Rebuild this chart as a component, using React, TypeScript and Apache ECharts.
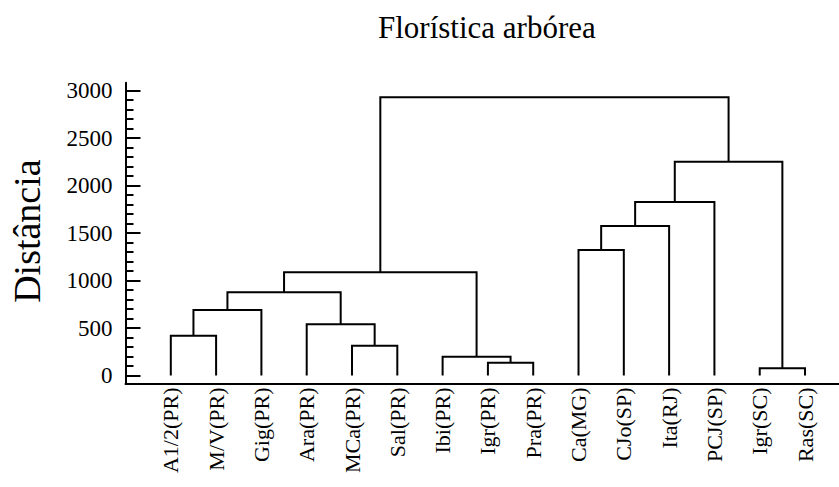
import React, { useEffect, useRef } from "react";
import * as echarts from "echarts";

// Leaves of the dendrogram, left to right
const leafLabels = [
  "A1/2(PR)",
  "M/V(PR)",
  "Gig(PR)",
  "Ara(PR)",
  "MCa(PR)",
  "Sal(PR)",
  "Ibi(PR)",
  "Igr(PR)",
  "Pra(PR)",
  "Ca(MG)",
  "CJo(SP)",
  "Ita(RJ)",
  "PCJ(SP)",
  "Igr(SC)",
  "Ras(SC)",
];

// Merge steps: nodes 0..14 are leaves, merge k creates node 15 + k
const mergeLeft = [0, 15, 4, 3, 16, 7, 6, 19, 9, 23, 24, 13, 25, 22];
const mergeRight = [1, 2, 5, 17, 18, 8, 20, 21, 10, 11, 12, 14, 26, 27];
const mergeHeight = [419, 690, 314, 539, 876, 135, 198, 1087, 1322, 1575, 1828, 76, 2252, 2931];

// Distance axis ticks
const yTickValues = [0, 500, 1000, 1500, 2000, 2500, 3000];
const yMinorTickValues = [
  100, 200, 300, 400, 600, 700, 800, 900, 1100, 1200, 1300, 1400, 1600, 1700, 1800, 1900,
  2100, 2200, 2300, 2400, 2600, 2700, 2800, 2900,
];

const SERIF = "'Liberation Serif', 'Times New Roman', Times, serif";

// Horizontal position (in leaf units) and height of every node
function buildLinks() {
  const pos: number[] = leafLabels.map((_, i) => i);
  const height: number[] = leafLabels.map(() => 0);
  const links: number[][] = [];
  mergeHeight.forEach((h, k) => {
    const l = mergeLeft[k];
    const r = mergeRight[k];
    links.push([pos[l], pos[r], height[l], height[r], h]);
    pos.push((pos[l] + pos[r]) / 2);
    height.push(h);
  });
  return links;
}

export default function App() {
  const ref = useRef<HTMLDivElement>(null);

  useEffect(() => {
    if (!ref.current) return;
    const chart = echarts.init(ref.current, null, { renderer: "svg" });
    const links = buildLinks();

    const option: any = {
      animation: false,
      backgroundColor: "#ffffff",
      title: {
        text: "Florística arbórea",
        left: 378,
        top: 12,
        padding: 0,
        textStyle: {
          fontFamily: SERIF,
          fontSize: 31,
          fontWeight: "normal",
          color: "#000",
        },
      },
      grid: {
        left: 125.5,
        right: 0,
        top: 82.7,
        bottom: 103.5,
        containLabel: false,
        outerBoundsMode: "none",
      },
      xAxis: {
        type: "value",
        min: -1,
        max: 14.75,
        interval: 1,
        axisLine: { show: true, onZero: false, lineStyle: { color: "#000", width: 2 } },
        axisTick: { show: false },
        splitLine: { show: false },
        axisLabel: {
          rotate: 90,
          margin: 4,
          fontFamily: SERIF,
          fontSize: 22,
          color: "#000",
          showMinLabel: true,
          showMaxLabel: true,
          formatter: (v: number) =>
            Number.isInteger(v) && v >= 0 && v < leafLabels.length ? leafLabels[v] : "",
        },
      },
      yAxis: [
        {
          type: "value",
          min: -84,
          max: 3084,
          position: "left",
          name: "Distância",
          nameLocation: "middle",
          nameGap: 80,
          nameTextStyle: {
            fontFamily: SERIF,
            fontSize: 38,
            color: "#000",
            padding: [0, 0, 0, 4],
          },
          axisLine: { show: true, onZero: false, lineStyle: { color: "#000", width: 2 } },
          axisTick: {
            show: true,
            inside: true,
            length: 15,
            customValues: yTickValues,
            lineStyle: { color: "#000", width: 2 },
          },
          axisLabel: {
            customValues: yTickValues,
            margin: 13,
            fontFamily: SERIF,
            fontSize: 23,
            color: "#000",
            formatter: (v: number) => String(v),
          },
          splitLine: { show: false },
        },
        {
          type: "value",
          min: -84,
          max: 3084,
          position: "left",
          axisLine: { show: false, onZero: false },
          axisTick: {
            show: true,
            inside: true,
            length: 8,
            customValues: yMinorTickValues,
            lineStyle: { color: "#000", width: 2 },
          },
          axisLabel: { show: false },
          splitLine: { show: false },
        },
      ],
      series: [
        {
          type: "custom",
          xAxisIndex: 0,
          yAxisIndex: 0,
          encode: { x: [0, 1], y: [2, 3, 4] },
          data: links,
          renderItem: (_params: any, api: any) => {
            const a = api.coord([api.value(0), api.value(2)]);
            const b = api.coord([api.value(0), api.value(4)]);
            const c = api.coord([api.value(1), api.value(4)]);
            const d = api.coord([api.value(1), api.value(3)]);
            return {
              type: "polyline",
              shape: { points: [a, b, c, d] },
              style: { stroke: "#000", lineWidth: 2, fill: null },
            };
          },
        },
      ],
    };

    chart.setOption(option);
    return () => chart.dispose();
  }, []);

  return (
    <div
      ref={ref}
      style={{
        position: "fixed",
        left: 0,
        top: 0,
        width: 839,
        height: 487,
        background: "#fff",
      }}
    />
  );
}
